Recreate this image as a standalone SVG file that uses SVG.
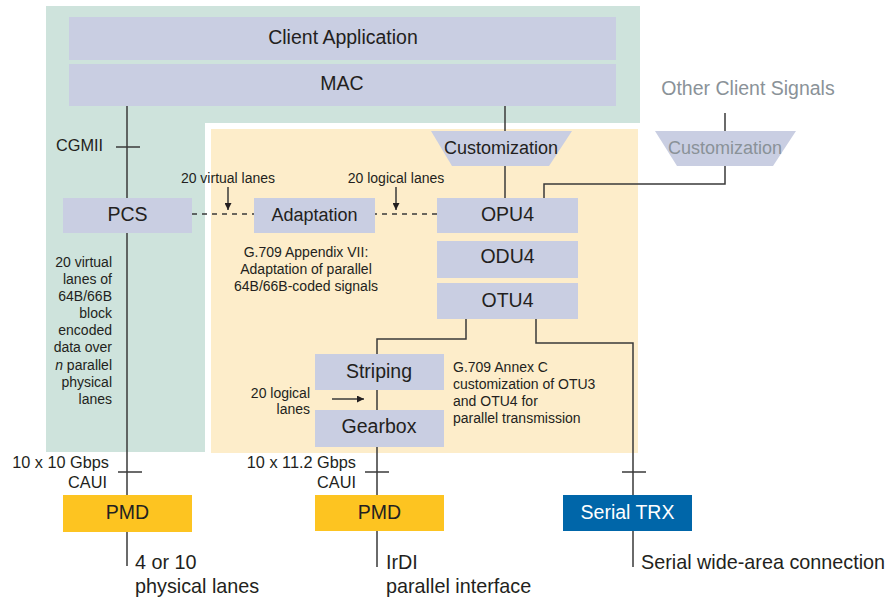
<svg xmlns="http://www.w3.org/2000/svg" width="892" height="601" viewBox="0 0 892 601">
<defs>
<style>
text{font-family:"Liberation Sans",Arial,sans-serif;fill:#231f20}
.box{fill:#c9cee2}
.big{font-size:19.5px;text-anchor:middle}
.mid{font-size:18px;text-anchor:middle}
.sm{font-size:14px}
.lbl{font-size:16.3px}
.bot{font-size:19.8px}
.ln{fill:none;stroke:#3a3a3a;stroke-width:1.5}
.dash{fill:none;stroke:#3a3a3a;stroke-width:1.3;stroke-dasharray:5 5}
.gray{fill:#8a9298}
</style>
<marker id="ah" viewBox="0 0 10 10" refX="10" refY="5" markerWidth="8" markerHeight="7" markerUnits="userSpaceOnUse" orient="auto">
<path d="M0,0 L10,5 L0,10 z" fill="#231f20"/>
</marker>
</defs>
<rect width="892" height="601" fill="#fff"/>
<g id="backgrounds">
<rect x="46" y="6" width="594" height="446" fill="#cee3dc"/>
<rect x="205" y="123" width="445" height="335" fill="#fff"/>
<rect x="211" y="129" width="427" height="324" fill="#fdedca"/>
</g>
<g id="connectors">
<path class="ln" d="M127,106 V566"/>
<path class="ln" d="M116,147 H140"/>
<path class="ln" d="M118,472 H142"/>
<path class="ln" d="M505,106 V198"/>
<path class="ln" d="M725,113 V131"/>
<path class="ln" d="M725,166 V184 H544 V198"/>
<path class="ln" d="M466,319 V339 H377 V567"/>
<path class="ln" d="M365,472 H389"/>
<path class="ln" d="M536,319 V343 H633 V567"/>
<path class="ln" d="M622,472 H646"/>
<path class="dash" d="M192,214 H437"/>
<path class="ln" d="M228,187 V210" stroke-width="1.3" marker-end="url(#ah)"/>
<path class="ln" d="M396,187 V210" stroke-width="1.3" marker-end="url(#ah)"/>
<path class="ln" d="M332,399 H364" stroke-width="1.3" marker-end="url(#ah)"/>
</g>
<g id="client-application"><rect class="box" x="69" y="17" width="547" height="43"/><text class="big" x="343" y="44">Client Application</text></g>
<g id="mac"><rect class="box" x="69" y="64" width="547" height="42"/><text class="big" x="342" y="90">MAC</text></g>
<g id="customization"><polygon class="box" points="431,131 572,131 549,166 452,166"/><text class="mid" x="501" y="154">Customization</text></g>
<g id="other-client-signals"><text class="big gray" x="748" y="95">Other Client Signals</text></g>
<g id="customization-other"><polygon class="box" points="655,131 796,131 773,166 677,166"/><text class="mid gray" x="725" y="154">Customization</text></g>
<g id="pcs"><rect class="box" x="63" y="198" width="129" height="35"/><text class="big" x="127.5" y="221">PCS</text></g>
<g id="adaptation"><rect class="box" x="254" y="198" width="121" height="35"/><text class="mid" x="314.5" y="221">Adaptation</text></g>
<g id="opu4"><rect class="box" x="437" y="198" width="141" height="35"/><text class="big" x="507.5" y="221">OPU4</text></g>
<g id="odu4"><rect class="box" x="437" y="241" width="141" height="37"/><text class="big" x="507.5" y="263">ODU4</text></g>
<g id="otu4"><rect class="box" x="437" y="283" width="141" height="36"/><text class="big" x="507.5" y="307">OTU4</text></g>
<g id="striping"><rect class="box" x="315" y="354" width="129" height="36"/><text class="big" x="379" y="378">Striping</text></g>
<g id="gearbox"><rect class="box" x="315" y="410" width="129" height="37"/><text class="big" x="379" y="433">Gearbox</text></g>
<g id="pmd-1"><rect x="63" y="495" width="129" height="37" fill="#fdc421"/><text class="big" x="127.5" y="519">PMD</text></g>
<g id="pmd-2"><rect x="315" y="495" width="129" height="36" fill="#fdc421"/><text class="big" x="379.5" y="519">PMD</text></g>
<g id="serial-trx"><rect x="563" y="495" width="129" height="36" fill="#0066a9"/><text class="big" x="627.5" y="519" style="fill:#fff">Serial TRX</text></g>
<g id="labels">
<text class="lbl" x="103" y="151" text-anchor="end">CGMII</text>
<text class="sm" x="228" y="183" text-anchor="middle">20 virtual lanes</text>
<text class="sm" x="396" y="183" text-anchor="middle">20 logical lanes</text>
<g class="sm" text-anchor="end">
<text x="112" y="267">20 virtual</text>
<text x="112" y="284">lanes of</text>
<text x="112" y="301">64B/66B</text>
<text x="112" y="318">block</text>
<text x="112" y="335">encoded</text>
<text x="112" y="352">data over</text>
<text x="112" y="370"><tspan font-style="italic">n</tspan> parallel</text>
<text x="112" y="387">physical</text>
<text x="112" y="404">lanes</text>
</g>
<g class="sm" text-anchor="middle">
<text x="306" y="257">G.709 Appendix VII:</text>
<text x="306" y="274">Adaptation of parallel</text>
<text x="306" y="291">64B/66B-coded signals</text>
</g>
<g class="sm">
<text x="453" y="372">G.709 Annex C</text>
<text x="453" y="389">customization of OTU3</text>
<text x="453" y="406">and OTU4 for</text>
<text x="453" y="423">parallel transmission</text>
</g>
<text class="sm" x="310" y="398" text-anchor="end">20 logical</text>
<text class="sm" x="310" y="414" text-anchor="end">lanes</text>
<text class="lbl" x="109" y="468" text-anchor="end">10 x 10 Gbps</text>
<text class="lbl" x="107" y="488" text-anchor="end">CAUI</text>
<text class="lbl" x="356" y="468" text-anchor="end">10 x 11.2 Gbps</text>
<text class="lbl" x="356" y="488" text-anchor="end">CAUI</text>
<text class="bot" x="135" y="569">4 or 10</text>
<text class="bot" x="135" y="593">physical lanes</text>
<text class="bot" x="386" y="569">IrDI</text>
<text class="bot" x="386" y="593">parallel interface</text>
<text class="bot" x="641" y="569">Serial wide-area connection</text>
</g>
</svg>
